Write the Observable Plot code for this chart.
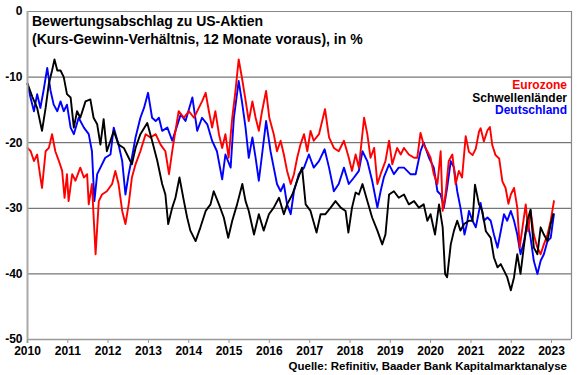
<!DOCTYPE html>
<html>
<head>
<meta charset="utf-8">
<script src="https://cdn.jsdelivr.net/npm/d3@7"></script>
<script src="https://cdn.jsdelivr.net/npm/@observablehq/plot@0.6"></script>
<style>
  body { margin: 0; background: #fff; }
  #wrap { position: relative; width: 580px; height: 375px; font-family: "Liberation Sans", Arial, sans-serif; }
  .title { position: absolute; left: 32px; top: 12px; font-weight: bold; font-size: 14px; line-height: 18px; color: #000; white-space: nowrap; }
  .legend { position: absolute; right: 13px; top: 79px; font-weight: bold; font-size: 12px; line-height: 12.5px; text-align: right; }
  .source { position: absolute; right: 13px; top: 360px; font-weight: bold; font-size: 11.5px; color: #000; white-space: nowrap; }
</style>
</head>
<body>
<div id="wrap"></div>
<script>
// Decimal years and values
const euroT = [2010.0,2010.08,2010.16,2010.24,2010.32,2010.36,2010.45,2010.53,2010.61,2010.69,2010.78,2010.86,2010.92,2010.98,2011.02,2011.11,2011.19,2011.31,2011.4,2011.48,2011.52,2011.6,2011.69,2011.77,2011.85,2011.97,2012.1,2012.18,2012.26,2012.35,2012.43,2012.51,2012.59,2012.68,2012.8,2012.93,2013.05,2013.18,2013.3,2013.42,2013.51,2013.59,2013.67,2013.75,2013.88,2014.0,2014.13,2014.25,2014.33,2014.42,2014.5,2014.58,2014.66,2014.75,2014.83,2014.91,2014.99,2015.08,2015.16,2015.24,2015.32,2015.41,2015.49,2015.58,2015.66,2015.74,2015.82,2015.92,2016.0,2016.11,2016.19,2016.28,2016.36,2016.44,2016.53,2016.61,2016.69,2016.77,2016.86,2016.94,2017.02,2017.1,2017.23,2017.38,2017.48,2017.6,2017.72,2017.85,2017.97,2018.05,2018.14,2018.22,2018.35,2018.43,2018.51,2018.6,2018.68,2018.76,2018.88,2018.97,2019.05,2019.17,2019.26,2019.34,2019.46,2019.59,2019.67,2019.75,2019.83,2019.92,2020.0,2020.08,2020.17,2020.25,2020.3,2020.37,2020.45,2020.54,2020.62,2020.7,2020.78,2020.87,2020.95,2021.04,2021.12,2021.2,2021.24,2021.32,2021.41,2021.47,2021.53,2021.61,2021.7,2021.78,2021.86,2021.93,2021.99,2022.07,2022.15,2022.21,2022.28,2022.36,2022.42,2022.48,2022.56,2022.65,2022.73,2022.81,2022.9,2022.98,2023.06];
const euroV = [-20.8,-21.3,-22.8,-21.8,-25.3,-26.9,-21.3,-20.8,-18.7,-21.3,-22.8,-24.3,-28.4,-24.8,-28.9,-24.8,-25.8,-23.8,-25.3,-24.8,-29.4,-26.3,-37,-28.9,-27.9,-27.4,-26.3,-24.3,-26.3,-30.4,-32.4,-29.4,-25.3,-23.3,-21.3,-18.7,-19.2,-18.7,-20.3,-21.3,-24.8,-21.3,-18.2,-15.2,-16.2,-15.2,-16.2,-14.7,-13.7,-12.4,-15.2,-17.7,-15.2,-18.7,-20.8,-18.7,-22.3,-16.2,-12.1,-7.3,-10.1,-13.5,-16.7,-13.7,-16.2,-18.2,-15.2,-12.1,-16.2,-18.7,-21.3,-19.7,-21.8,-24.3,-26.3,-24.8,-22.3,-20.3,-18.7,-21.3,-18.2,-19.7,-18.7,-14.9,-19.2,-20.8,-21.3,-19.7,-22.3,-24.3,-21.8,-23.8,-16.2,-18.7,-22.3,-20.8,-26.3,-24.8,-22.8,-19.7,-23.3,-20.8,-21.8,-20.8,-21.8,-22.3,-22.3,-18.5,-20.3,-21.3,-22.3,-24.8,-26.3,-21.3,-30.4,-27.9,-22.8,-21.8,-26.3,-24.3,-25.3,-19.0,-21.4,-21.9,-20.9,-18.3,-17.8,-19.8,-18.1,-17.6,-20.4,-21.9,-22.4,-25.9,-26.9,-29.3,-27.9,-26.9,-29.9,-36,-32.9,-29.4,-33.5,-30.4,-34,-36,-37,-35.5,-34,-31.9,-28.9];

const emT = [2010.0,2010.12,2010.24,2010.36,2010.45,2010.53,2010.61,2010.67,2010.74,2010.82,2010.9,2010.98,2011.07,2011.15,2011.23,2011.31,2011.44,2011.56,2011.64,2011.73,2011.81,2011.89,2011.97,2012.06,2012.14,2012.26,2012.39,2012.51,2012.59,2012.68,2012.8,2012.97,2013.09,2013.22,2013.34,2013.42,2013.49,2013.59,2013.67,2013.77,2013.88,2013.96,2014.04,2014.17,2014.29,2014.42,2014.54,2014.62,2014.75,2014.87,2014.98,2015.08,2015.2,2015.33,2015.41,2015.49,2015.62,2015.74,2015.86,2015.99,2016.11,2016.24,2016.36,2016.44,2016.57,2016.69,2016.81,2016.9,2017.02,2017.17,2017.27,2017.39,2017.52,2017.64,2017.77,2017.89,2017.96,2018.05,2018.14,2018.22,2018.31,2018.43,2018.55,2018.68,2018.8,2018.88,2018.97,2019.09,2019.21,2019.34,2019.46,2019.59,2019.71,2019.83,2019.92,2020.0,2020.11,2020.21,2020.3,2020.36,2020.41,2020.5,2020.58,2020.66,2020.74,2020.83,2020.95,2021.04,2021.1,2021.2,2021.28,2021.37,2021.49,2021.57,2021.66,2021.74,2021.82,2021.9,2021.99,2022.07,2022.15,2022.23,2022.32,2022.4,2022.48,2022.56,2022.65,2022.73,2022.81,2022.9,2022.98,2023.04];
const emV = [-11,-13,-14.7,-18.2,-14.7,-11,-9,-7.3,-9,-9,-10,-12.6,-13.1,-17.7,-15.2,-16.2,-13.7,-13.4,-16.2,-17.2,-20.3,-16.4,-21.3,-19.7,-18.2,-20.3,-20.8,-22.3,-23.3,-20.8,-18.7,-17,-19.7,-22.8,-26.3,-27.9,-32.4,-29.9,-28.4,-25.3,-28.9,-31.4,-33.4,-35,-32.9,-30.4,-29.4,-27.4,-29.4,-31.4,-34.5,-31.9,-29.4,-26.3,-28.9,-30.4,-34,-30.9,-33.4,-30.9,-29.9,-28.4,-30.9,-29.4,-27.9,-25.8,-23.8,-29.4,-30.4,-33.7,-30.9,-30.9,-29.9,-28.9,-29.9,-30.4,-33.7,-29.9,-27.6,-27.9,-26.3,-28.9,-31.4,-33.4,-35.5,-34,-27.9,-27.4,-28.4,-27.9,-29.4,-28.9,-29.9,-29.4,-31.9,-30.9,-34,-29.4,-32.9,-40,-40.5,-35.5,-33.4,-31.9,-33.4,-32.4,-31.9,-31.9,-26.4,-29.4,-30.4,-33.5,-34.5,-37.5,-39,-38.5,-39.5,-40.5,-42.5,-40.5,-37,-40,-35.5,-31.9,-30.2,-36,-37,-32.9,-34,-35,-32.4,-30.9];

const deT = [2010.0,2010.07,2010.16,2010.24,2010.32,2010.4,2010.49,2010.57,2010.65,2010.74,2010.82,2010.9,2010.98,2011.07,2011.15,2011.27,2011.4,2011.52,2011.6,2011.66,2011.73,2011.81,2011.93,2012.06,2012.14,2012.26,2012.35,2012.43,2012.51,2012.59,2012.68,2012.8,2012.89,2012.99,2013.09,2013.18,2013.26,2013.34,2013.47,2013.59,2013.67,2013.8,2013.92,2014.09,2014.21,2014.33,2014.46,2014.58,2014.7,2014.83,2014.91,2015.04,2015.12,2015.24,2015.32,2015.41,2015.49,2015.58,2015.66,2015.74,2015.82,2015.92,2016.03,2016.11,2016.19,2016.28,2016.36,2016.44,2016.53,2016.61,2016.73,2016.86,2016.98,2017.1,2017.23,2017.37,2017.48,2017.6,2017.72,2017.85,2017.97,2018.1,2018.22,2018.31,2018.43,2018.55,2018.68,2018.76,2018.84,2018.97,2019.09,2019.21,2019.34,2019.5,2019.63,2019.75,2019.83,2019.96,2020.08,2020.17,2020.25,2020.33,2020.41,2020.5,2020.58,2020.66,2020.74,2020.84,2020.9,2020.95,2021.04,2021.12,2021.24,2021.32,2021.41,2021.49,2021.57,2021.66,2021.74,2021.82,2021.9,2021.99,2022.07,2022.15,2022.23,2022.32,2022.4,2022.48,2022.56,2022.65,2022.73,2022.81,2022.9,2022.98,2023.06];
const deV = [-11,-13,-15.2,-12.6,-14.7,-12,-8.6,-12,-14.2,-15.2,-13.7,-15.2,-14.2,-17.7,-18.7,-16.2,-17.7,-18.7,-21.3,-28.9,-24.8,-23.8,-22.3,-21.8,-17.7,-20.3,-22.8,-27.9,-24.8,-22.3,-19.2,-16.2,-14.7,-12.4,-16.2,-16.7,-16.2,-18.2,-17.7,-19.7,-18.2,-15.7,-16.7,-13.1,-18.2,-16.2,-17.2,-19.7,-21.3,-25.6,-21.8,-23.8,-16.2,-10.6,-13.7,-17.7,-22.3,-19.2,-22.3,-25.8,-21.8,-16.7,-21.3,-23.8,-26.3,-27.4,-26.3,-29.4,-30.9,-27.4,-24.8,-23.8,-21.8,-23.8,-22.8,-21,-23.8,-27.4,-26.3,-23.8,-26.3,-25.3,-24.3,-21.3,-22.8,-25.8,-29.9,-27.4,-25.3,-23.3,-24.8,-23.8,-23.8,-24.8,-24.8,-21.3,-20,-22.3,-23.8,-27.4,-27.9,-29.9,-26.9,-22.8,-23.8,-27.4,-29.9,-34,-32.4,-30.4,-31.9,-32.9,-29.2,-31.9,-31.4,-31.9,-34,-36,-33.5,-30.9,-31.9,-30.4,-31.9,-34,-37,-35,-31.9,-34.5,-38,-40,-38,-37,-35,-34.5,-30.9];

const yTicks = [-50, -40, -30, -20, -10, 0];
const gridVals = [-40, -30, -20, -10];
const seriesNames = ["Eurozone", "Schwellenländer", "Deutschland"];
const seriesColors = ["#ff0000", "#000000", "#0000ff"];
const titleLines = ["Bewertungsabschlag zu US-Aktien", "(Kurs-Gewinn-Verhältnis, 12 Monate voraus), in %"];
const sourceText = "Quelle: Refinitiv, Baader Bank Kapitalmarktanalyse";

function toDate(y) {
  const yr = Math.floor(y);
  const start = Date.UTC(yr, 0, 1), end = Date.UTC(yr + 1, 0, 1);
  return new Date(start + (y - yr) * (end - start));
}
function build(T, V, name) { return T.map((t, i) => ({date: toDate(t), value: V[i], name})); }

const euro = build(euroT, euroV, seriesNames[0]);
const em = build(emT, emV, seriesNames[1]);
const de = build(deT, deV, seriesNames[2]);

const x0 = new Date(Date.UTC(2010, 0, 1));
const x1 = new Date(Date.UTC(2023, 6, 1));
const years = d3.utcYear.range(x0, new Date(Date.UTC(2023, 1, 1)));

const chart = Plot.plot({
  width: 580,
  height: 375,
  marginLeft: 27,
  marginRight: 9,
  marginTop: 11,
  marginBottom: 36,
  style: {fontFamily: '"Liberation Sans", Arial, sans-serif', fontSize: "12px", fontWeight: "bold", background: "#fff", color: "#000", overflow: "visible"},
  x: {type: "utc", domain: [x0, x1]},
  y: {domain: [-50, 0], axis: null},
  marks: [
    Plot.ruleY(gridVals, {stroke: "#555", strokeWidth: 1, strokeOpacity: 1}),
    Plot.ruleY([0], {stroke: "#888", strokeWidth: 1.2}),
    Plot.ruleX([x1], {stroke: "#888", strokeWidth: 1.2}),
    Plot.line(de, {x: "date", y: "value", stroke: seriesColors[2], strokeWidth: 1.9}),
    Plot.line(euro, {x: "date", y: "value", stroke: seriesColors[0], strokeWidth: 1.9}),
    Plot.line(em, {x: "date", y: "value", stroke: seriesColors[1], strokeWidth: 1.9}),
    Plot.ruleY([-50], {stroke: "#999", strokeWidth: 1.5}),
    Plot.ruleX([x0], {y1: -50.6, y2: 0, stroke: "#aaa", strokeWidth: 2}),
    Plot.text(yTicks, {x: x0, y: d => d, text: d => String(d), textAnchor: "end", dx: -5, fontSize: 12, fontWeight: "bold", fill: "#000"}),
    Plot.axisX({ticks: years, tickSize: 4, tickPadding: 3, stroke: "#999", tickFormat: d3.utcFormat("%Y"), label: null, fontSize: 12, fontWeight: "bold"})
  ]
});

const wrap = document.getElementById("wrap");
wrap.appendChild(chart);

const t = document.createElement("div");
t.className = "title";
t.innerHTML = titleLines.join("<br>");
wrap.appendChild(t);

const lg = document.createElement("div");
lg.className = "legend";
seriesNames.forEach((n, i) => {
  const d = document.createElement("div");
  d.textContent = n;
  d.style.color = seriesColors[i];
  lg.appendChild(d);
});
wrap.appendChild(lg);

const s = document.createElement("div");
s.className = "source";
s.textContent = sourceText;
wrap.appendChild(s);
</script>
</body>
</html>
